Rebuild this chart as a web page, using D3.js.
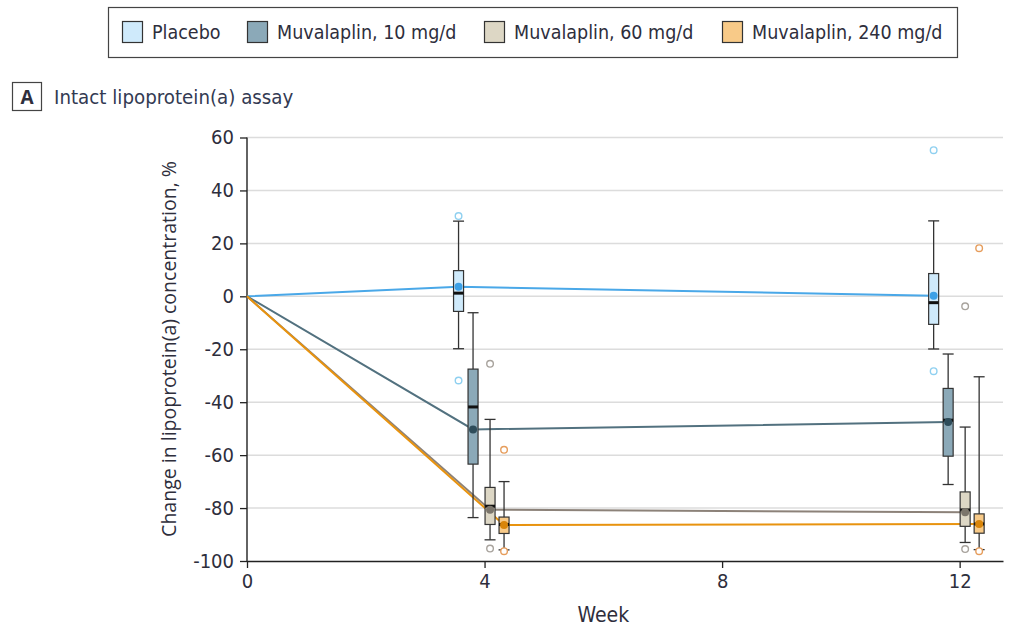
<!DOCTYPE html>
<html>
<head>
<meta charset="utf-8">
<script src="https://cdn.jsdelivr.net/npm/d3@7"></script>
<style>
  body { margin: 0; background: #fff; }
  svg text { font-family: "Liberation Sans Narrow", "DejaVu Sans Condensed", "Open Sans", sans-serif; fill: #2e2e3c; }
</style>
</head>
<body>
<svg id="chart" width="1026" height="633"></svg>
<script>
// ---------------- DATA ----------------
const groups = ["Placebo", "Muvalaplin, 10 mg/d", "Muvalaplin, 60 mg/d", "Muvalaplin, 240 mg/d"];
const weeks = [0, 4, 12];
const boxWeeks = [4, 12];
const xTicks = [0, 4, 8, 12];
const yTicks = [60, 40, 20, 0, -20, -40, -60, -80, -100];

// mean change at weeks 0, 4, 12
const meanPlacebo = [0, 3.6, 0.2];
const mean10 = [0, -50.3, -47.5];
const mean60 = [0, -80.6, -81.6];
const mean240 = [0, -86.4, -86.0];

// box stats at weeks 4 and 12: [lower whisker, Q1, median, Q3, upper whisker]
const boxPlacebo = [[-19.8, -5.7, 1.2, 9.7, 28.4], [-19.9, -10.6, -2.4, 8.6, 28.5]];
const box10 = [[-83.6, -63.4, -41.8, -27.5, -6.2], [-71.1, -60.4, -46.8, -34.8, -21.8]];
const box60 = [[-92.0, -86.2, -79.3, -72.2, -46.5], [-93.0, -86.9, -80.7, -73.9, -49.4]];
const box240 = [[-95.8, -89.6, -86.2, -83.4, -70.0], [-95.7, -89.5, -86.0, -82.2, -30.4]];

// outliers at weeks 4 and 12
const outPlacebo = [[30.3, -31.8], [55.2, -28.3]];
const out10 = [[], []];
const out60 = [[-25.5, -95.3], [-3.8, -95.5]];
const out240 = [[-58.0, -96.3], [18.2, -96.3]];

// ---------------- STYLE / LAYOUT ----------------
const fills = ["#cfeafb", "#8ba9b8", "#ddd7c5", "#f8ca88"];
const lineColors = ["#4aa8e8", "#52717f", "#8c8279", "#e8930f"];
const dotColors = ["#3ca0e6", "#2e4c5a", "#7b756b", "#d9850a"];
const outColors = ["#8fd0f0", "#52717f", "#a8a39d", "#e69d5c"];
const dodge = [-26, -11.5, 5.5, 19.5];
const boxW = 10;

const means = [meanPlacebo, mean10, mean60, mean240];
const boxes = [boxPlacebo, box10, box60, box240];
const outs = [outPlacebo, out10, out60, out240];

const svg = d3.select("#chart");
const x = d3.scaleLinear().domain([0, 12.73]).range([247, 1003]);
const y = d3.scaleLinear().domain([-100, 60]).range([561, 137.5]);

// gridlines
svg.append("g").selectAll("line").data(yTicks.filter(d => d > -100)).join("line")
  .attr("x1", x(0)).attr("x2", x(12.73))
  .attr("y1", d => y(d)).attr("y2", d => y(d))
  .attr("stroke", "#dcdcdc").attr("stroke-width", 1.5);

// axes
const yAxis = svg.append("g").attr("transform", `translate(${x(0)},0)`)
  .call(d3.axisLeft(y).tickValues(yTicks).tickSize(7).tickPadding(6).tickFormat(d => d));
const xAxis = svg.append("g").attr("transform", `translate(0,${y(-100)})`)
  .call(d3.axisBottom(x).tickValues(xTicks).tickSize(7).tickPadding(6).tickSizeOuter(0));
[yAxis, xAxis].forEach(a => {
  a.select(".domain").attr("stroke", "#222").attr("stroke-width", 1.4);
  a.selectAll(".tick line").attr("stroke", "#222").attr("stroke-width", 1.3);
  a.selectAll(".tick text").attr("font-size", 20).style("fill", "#2e2e3c")
    .style("font-family", '"Liberation Sans Narrow", "DejaVu Sans Condensed", sans-serif');
});
yAxis.select(".domain").attr("d", `M0,${y(60)}V${y(-100)}`);

// axis titles
svg.append("text").attr("x", x(6)).attr("y", 622).attr("text-anchor", "middle")
  .attr("font-size", 21).text("Week");
svg.append("text").attr("transform", `translate(176,${349}) rotate(-90)`)
  .attr("text-anchor", "middle").attr("font-size", 19.5)
  .style("font-family", '"Open Sans", "DejaVu Sans", sans-serif')
  .text("Change in lipoprotein(a) concentration, %");

// mean lines
const px = (gi, w) => x(w) + (w === 0 ? 0 : dodge[gi]);
groups.forEach((g, gi) => {
  const line = d3.line().x(d => px(gi, d[0])).y(d => y(d[1]));
  svg.append("path").datum(weeks.map((w, i) => [w, means[gi][i]]))
    .attr("d", line).attr("fill", "none")
    .attr("stroke", lineColors[gi]).attr("stroke-width", 2);
});

// boxes
groups.forEach((g, gi) => {
  boxWeeks.forEach((w, wi) => {
    const s = boxes[gi][wi];
    const cx = px(gi, w);
    const gg = svg.append("g");
    gg.append("line").attr("x1", cx).attr("x2", cx).attr("y1", y(s[0])).attr("y2", y(s[4]))
      .attr("stroke", "#333").attr("stroke-width", 1.3);
    [s[0], s[4]].forEach(v => gg.append("line")
      .attr("x1", cx - 5.5).attr("x2", cx + 5.5).attr("y1", y(v)).attr("y2", y(v))
      .attr("stroke", "#333").attr("stroke-width", 1.3));
    gg.append("rect").attr("x", cx - boxW / 2).attr("width", boxW)
      .attr("y", y(s[3])).attr("height", y(s[1]) - y(s[3]))
      .attr("fill", fills[gi]).attr("stroke", "#333").attr("stroke-width", 1.2);
    gg.append("rect").attr("x", cx - boxW / 2).attr("width", boxW)
      .attr("y", y(s[2]) - 1.5).attr("height", 3).attr("fill", "#111");
    gg.append("circle").attr("cx", cx).attr("cy", y(means[gi][wi + 1])).attr("r", 4)
      .attr("fill", dotColors[gi]);
    gg.selectAll("circle.o").data(outs[gi][wi]).join("circle").attr("class", "o")
      .attr("cx", cx).attr("cy", d => y(d)).attr("r", 3.3)
      .attr("fill", "#fff").attr("stroke", outColors[gi]).attr("stroke-width", 1.4);
  });
});

// legend
svg.append("rect").attr("x", 108.5).attr("y", 7.5).attr("width", 849).attr("height", 50)
  .attr("fill", "#fff").attr("stroke", "#444").attr("stroke-width", 1.2);
const legX = [122, 247, 484, 722];
groups.forEach((g, gi) => {
  svg.append("rect").attr("x", legX[gi] + 0.5).attr("y", 21.5).attr("width", 20).attr("height", 21)
    .attr("fill", fills[gi]).attr("stroke", "#333").attr("stroke-width", 1.2);
  svg.append("text").attr("x", legX[gi] + 30).attr("y", 39).attr("font-size", 19.5).text(g);
});

// panel label
svg.append("rect").attr("x", 12.5).attr("y", 82.5).attr("width", 29).attr("height", 28)
  .attr("fill", "#fff").attr("stroke", "#444").attr("stroke-width", 1.2);
svg.append("text").attr("x", 27).attr("y", 104).attr("text-anchor", "middle")
  .attr("font-size", 19).attr("font-weight", "bold")
  .style("font-family", '"Open Sans", "DejaVu Sans", sans-serif').text("A");
svg.append("text").attr("x", 54).attr("y", 104).attr("font-size", 20.3)
  .style("fill", "#333a52").text("Intact lipoprotein(a) assay");
</script>
</body>
</html>
